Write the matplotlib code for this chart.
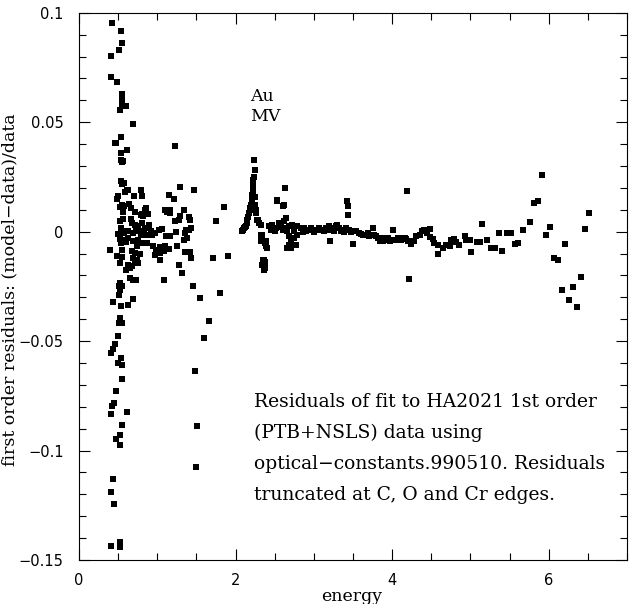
import numpy as np
import matplotlib
matplotlib.use("Agg")
import matplotlib.pyplot as plt
from matplotlib.ticker import MultipleLocator

# Residuals, grouped by energy range

# low energy cluster (below 1 keV)
x_low = [0.42, 0.535, 0.555, 0.517, 0.414, 0.414, 0.491, 0.555, 0.543, 0.547,
         0.598, 0.53, 0.696, 0.535, 0.47, 0.61, 0.535, 0.535, 0.56, 0.545,
         0.535, 0.57, 0.555, 0.632, 0.79, 0.59, 0.496, 0.483, 0.705, 0.81,
         0.547, 0.57, 0.645, 0.66, 0.86, 0.61, 0.71, 0.815, 0.526, 0.56,
         0.718, 0.804, 0.846, 0.876, 0.79, 0.82, 0.526, 0.683, 0.718, 0.76,
         0.804, 0.9, 0.846, 0.535, 0.56, 0.58, 0.632, 0.696, 0.73, 0.76,
         0.795, 0.824, 0.868, 0.923, 0.932, 0.974, 0.547, 0.526, 0.538, 0.632,
         0.696, 0.76, 0.804, 0.868, 0.945, 0.987, 0.397, 0.547, 0.675, 0.718,
         0.78, 0.974, 0.491, 0.547, 0.526, 0.696, 0.74, 0.718, 0.76, 0.632,
         0.603, 0.654, 0.675, 0.654, 0.688, 0.73, 0.526, 0.517, 0.526, 0.517,
         0.696, 0.547, 0.44, 0.62, 0.535, 0.526, 0.513, 0.555, 0.504, 0.462,
         0.44, 0.406, 0.538, 0.504, 0.555, 0.555, 0.47, 0.449, 0.427, 0.406,
         0.61, 0.555, 0.53, 0.478, 0.53, 0.44, 0.41, 0.453, 0.41, 0.53,
         0.53, 0.688, 0.61, 0.462, 0.665, 0.74, 0.6, 0.5, 0.56]
y_low = [0.0953, 0.0919, 0.0862, 0.0830, 0.0802, 0.0706, 0.0682, 0.0629, 0.0606, 0.0577,
         0.0572, 0.0557, 0.0492, 0.0432, 0.0405, 0.0374, 0.0359, 0.0329, 0.0324, 0.0318,
         0.0233, 0.0222, 0.0218, 0.0192, 0.0192, 0.0180, 0.0164, 0.0150, 0.0164, 0.0161,
         0.0123, 0.0119, 0.0126, 0.0110, 0.0110, 0.0192, 0.0088, 0.0082, 0.0113, 0.0088,
         0.0088, 0.0082, 0.0100, 0.0082, 0.0076, 0.0073, 0.0050, 0.0042, 0.0032, 0.0024,
         0.0040, 0.0029, 0.0017, 0.0017, 0.0001, -0.0006, 0.0001, -0.0006, 0.0009, 0.0001,
         -0.0014, 0.0001, -0.0014, 0.0001, -0.0014, -0.0006, -0.0037, -0.0033, -0.0052, -0.0029,
         -0.0044, -0.0037, -0.0052, -0.0052, -0.0064, -0.0082, -0.0082, -0.0082, -0.0090, -0.0097,
         -0.0100, -0.0105, -0.0110, -0.0116, -0.0143, -0.0120, -0.0128, -0.0143, -0.0143, -0.0151,
         -0.0174, -0.0166, -0.0158, -0.0212, -0.0219, -0.0219, -0.0234, -0.0250, -0.0265, -0.0288,
         -0.0307, -0.0250, -0.0323, -0.0335, -0.0341, -0.0394, -0.0417, -0.0417, -0.0478, -0.0513,
         -0.0536, -0.0554, -0.0577, -0.0600, -0.0607, -0.0673, -0.0729, -0.0782, -0.0798, -0.0831,
         -0.0825, -0.0883, -0.0928, -0.0947, -0.0973, -0.1129, -0.1189, -0.1243, -0.1435, -0.1419,
         -0.1442, 0.0493, 0.0374, 0.0405, 0.0060, -0.0065, -0.0045, -0.0010, 0.0060]

# 1 - 2 keV
x_mid = [1.017, 1.06, 1.094, 1.124, 1.167, 1.167, 1.337, 1.295, 1.4, 1.415,
         1.85, 1.744, 1.23, 1.273, 1.115, 1.167, 1.244, 1.372, 1.36, 1.432,
         1.4, 1.337, 1.38, 1.038, 1.1, 1.145, 1.252, 1.038, 1.08, 1.36,
         1.423, 1.432, 1.03, 1.714, 1.9, 1.273, 1.316, 1.08, 1.457, 1.8,
         1.551, 1.658, 1.603, 1.478, 1.504, 1.491, 1.222, 1.286, 1.466, 1.145,
         1.21]
y_mid = [0.0009, 0.0012, 0.0100, 0.0088, 0.0085, 0.0100, 0.0100, 0.0073, 0.0065, 0.0055,
         0.0113, 0.0050, 0.0047, 0.0055, -0.0021, -0.0018, -0.0003, 0.0006, -0.0006, 0.0017,
         0.0009, -0.0037, -0.0029, -0.0070, -0.0064, -0.0079, -0.0067, -0.0097, -0.0090, -0.0094,
         -0.0094, -0.0120, -0.0131, -0.0120, -0.0110, -0.0151, -0.0189, -0.0219, -0.0247, -0.0280,
         -0.0305, -0.0410, -0.0485, -0.0638, -0.0889, -0.1075, 0.0393, 0.0204, 0.0189, 0.0169,
         0.0149]

# Au M edge region
x_au = [2.086, 2.095, 2.107, 2.118, 2.128, 2.14, 2.15, 2.16, 2.17, 2.18,
        2.19, 2.2, 2.205, 2.21, 2.214, 2.218, 2.222, 2.225, 2.227, 2.23,
        2.244, 2.235, 2.244, 2.256, 2.286, 2.3, 2.28, 2.32, 2.342, 2.333,
        2.37, 2.393, 2.35, 2.342, 2.363, 2.32, 2.32, 2.385, 2.4, 2.363,
        2.363, 2.628, 2.535, 2.61, 2.526, 2.62, 2.25, 2.26, 2.37, 2.372]
y_au = [0.0001, 0.0008, 0.0015, 0.0020, 0.0028, 0.0040, 0.0055, 0.0068, 0.0085, 0.0097,
        0.0108, 0.0120, 0.0131, 0.0150, 0.0169, 0.0185, 0.0200, 0.0220, 0.0237, 0.0250,
        0.0280, 0.0329, 0.0123, 0.0085, 0.0055, 0.0040, 0.0055, 0.0032, -0.0014, -0.0037,
        -0.0052, -0.0067, -0.0128, -0.0150, -0.0174, -0.0014, -0.0041, -0.0044, -0.0075, -0.0128,
        -0.0158, 0.0200, 0.0143, 0.0119, 0.0142, 0.0120, 0.0160, 0.0100, -0.0140, -0.0165]

# flat band 2.4 - 4.2 keV
x_band = [2.427, 2.47, 2.513, 2.555, 2.62, 2.64, 2.66, 2.68, 2.727, 2.79,
          2.83, 2.876, 2.92, 2.96, 3.026, 3.07, 3.11, 3.154, 3.2, 3.24,
          3.28, 3.325, 3.37, 3.41, 3.45, 3.5, 3.54, 3.58, 3.625, 3.667,
          3.71, 3.77, 3.82, 3.84, 3.88, 3.92, 3.97, 4.03, 4.07, 4.115,
          4.16, 4.2, 2.66, 2.68, 2.705, 2.68, 2.727, 2.75, 2.77, 2.66,
          2.705, 2.79, 3.21, 3.496, 3.43, 3.44, 3.44, 3.75, 4.01, 3.3,
          4.19, 4.21, 2.45, 2.5, 2.58, 2.6, 2.75, 2.86, 2.9, 3.0,
          3.05, 3.13, 3.18, 3.26, 3.35, 3.39, 3.47, 3.6, 3.69, 3.79,
          3.9, 3.95, 4.05, 4.09]
y_band = [0.0024, 0.0032, 0.0017, 0.0040, 0.0047, 0.0063, 0.0017, 0.0024, 0.0032, 0.0024,
          0.0017, 0.0017, 0.0009, 0.0017, 0.0009, 0.0017, 0.0009, 0.0017, 0.0024, 0.0017,
          0.0024, 0.0017, 0.0009, 0.0017, 0.0009, 0.0001, 0.0001, -0.0006, -0.0014, -0.0014,
          -0.0021, -0.0014, -0.0029, -0.0044, -0.0044, -0.0037, -0.0044, -0.0037, -0.0029, -0.0037,
          -0.0029, -0.0044, 0.0001, -0.0021, -0.0044, -0.0059, -0.0059, -0.0029, -0.0059, -0.0075,
          -0.0075, -0.0014, -0.0041, -0.0055, 0.0138, 0.0116, 0.0078, 0.0017, 0.0009, 0.0030,
          0.0186, -0.0216, 0.0010, 0.0005, 0.0020, 0.0010, 0.0005, 0.0000, 0.0005, 0.0000,
          0.0008, 0.0002, 0.0010, 0.0005, 0.0003, 0.0000, -0.0003, -0.0010, -0.0008, -0.0020,
          -0.0030, -0.0030, -0.0040, -0.0038]

# high energy tail
x_high = [4.137, 4.18, 4.235, 4.278, 4.31, 4.35, 4.38, 4.41, 4.45, 4.49,
          4.48, 4.52, 4.54, 4.585, 4.59, 4.65, 4.69, 4.735, 4.756, 4.79,
          4.82, 4.86, 4.93, 4.95, 4.99, 5.01, 5.08, 5.12, 5.15, 5.21,
          5.26, 5.31, 5.36, 5.41, 5.47, 5.52, 5.57, 5.61, 5.67, 5.76,
          5.81, 5.86, 5.915, 5.965, 6.02, 6.07, 6.12, 6.17, 6.21, 6.265,
          6.31, 6.36, 6.41, 6.465, 6.52]
y_high = [-0.0029, -0.0033, -0.0055, -0.0044, -0.0018, -0.0014, 0.0001, 0.0009, -0.0006, 0.0012,
          -0.0024, -0.0032, -0.0052, -0.0059, -0.0102, -0.0075, -0.0059, -0.0064, -0.0037, -0.0033,
          -0.0049, -0.0059, -0.0018, -0.0037, -0.0037, -0.0093, -0.0047, -0.0047, 0.0035, -0.0037,
          -0.0075, -0.0075, -0.0006, -0.0088, -0.0006, -0.0006, -0.0055, -0.0052, 0.0009, 0.0044,
          0.0131, 0.0140, 0.0260, -0.0014, 0.0021, -0.0120, -0.0128, -0.0266, -0.0056, -0.0312,
          -0.0253, -0.0344, -0.0207, 0.0012, 0.0085]

energy = np.concatenate([x_low, x_mid, x_au, x_band, x_high])
resid = np.concatenate([y_low, y_mid, y_au, y_band, y_high])

note_lines = ["Residuals of fit to HA2021 1st order",
              "(PTB+NSLS) data using",
              "optical\u2212constants.990510. Residuals",
              "truncated at C, O and Cr edges."]

serif = "DejaVu Serif"

fig = plt.figure(figsize=(6.32, 6.04), dpi=100)
ax = fig.add_axes([0.125, 0.0728, 0.867, 0.906])

ax.plot(energy, resid, "s", color="black", markersize=3.7, markeredgewidth=0)

ax.set_xlim(0, 7)
ax.set_ylim(-0.15, 0.1)
ax.xaxis.set_minor_locator(MultipleLocator(0.5))
ax.yaxis.set_minor_locator(MultipleLocator(0.01))
ax.tick_params(which="both", direction="in", top=True, right=True, labelsize=10.5)
ax.tick_params(which="major", length=8, width=0.8)
ax.tick_params(which="minor", length=5, width=0.8)
ax.tick_params(axis="y", which="major", pad=11)
ax.tick_params(axis="x", which="major", pad=9)
ax.set_yticks([0.1, 0.05, 0, -0.05, -0.1, -0.15])
ax.set_yticklabels(["0.1", "0.05", "0", "\u22120.05", "\u22120.1", "\u22120.15"])
ax.set_xticks([0, 2, 4, 6])
ax.set_xticklabels(["0", "2", "4", "6"])

ax.set_xlabel("energy", family=serif, fontsize=12.5)
ax.xaxis.set_label_coords(0.498, -0.051)
ax.set_ylabel("first order residuals: (model\u2212data)/data", family=serif, fontsize=12.5)
ax.yaxis.set_label_coords(-0.11, 0.494)

ax.text(2.19, 0.0616, "Au", family=serif, fontsize=12.5, va="center")
ax.text(2.19, 0.0525, "MV", family=serif, fontsize=12.5, va="center")

for i, line in enumerate(note_lines):
    ax.text(2.24, -0.0776 - i * 0.0142, line, family=serif,
            fontsize=13.5, va="center")

fig.savefig("out.png", dpi=100)
